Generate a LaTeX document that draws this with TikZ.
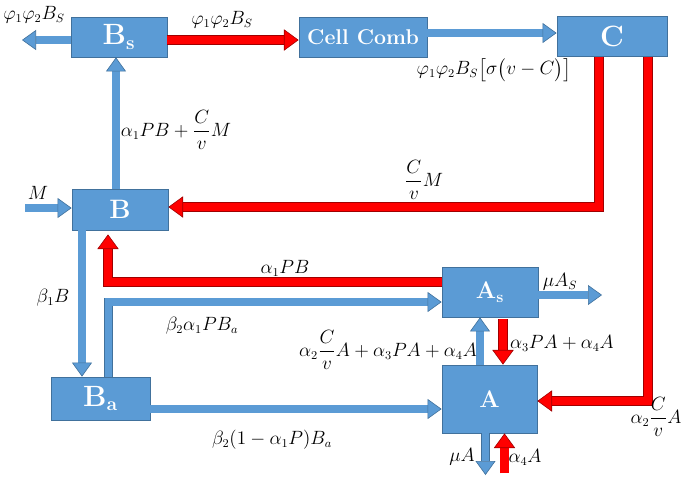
\documentclass[tikz,border=0pt]{standalone}
\usepackage{amsmath}
\usetikzlibrary{arrows.meta}
\definecolor{boxblue}{HTML}{5B9BD5}
\definecolor{boxline}{HTML}{41719C}
\definecolor{flowred}{HTML}{FF0000}
\definecolor{redline}{HTML}{A00000}
\tikzset{
	cbox/.style={draw=boxline,fill=boxblue,line width=0.6pt,text=white,inner sep=0pt},
	bluearr/.style={draw=boxline,line width=0.45pt,double=boxblue,double distance=5.6pt,
		-{Triangle[width=15pt,length=10.5pt,fill=boxblue]}},
	redarr/.style={draw=redline,line width=0.45pt,double=flowred,double distance=6.4pt,
		-{Triangle[width=16pt,length=11pt,fill=flowred]}},
	lab/.style={font=\fontsize{13.5}{16}\selectfont,inner sep=1pt}
}
\newcommand{\bigfont}[1]{\fontsize{#1}{#1}\selectfont\bfseries}
\begin{document}
\begin{tikzpicture}[x=0.75pt,y=-0.75pt]
			\useasboundingbox (0,0) rectangle (693,480);
			% compartments
			\node[cbox,minimum width=72pt,minimum height=30pt,font=\bigfont{22pt}] (Bs) at (119,37) {B$_{\mathbf{s}}$};
			\node[cbox,minimum width=96pt,minimum height=30pt,font=\bigfont{16pt}] (cell) at (363,37) {Cell Comb};
			\node[cbox,minimum width=82.5pt,minimum height=29.5pt,font=\bigfont{22pt}] (C) at (612,36.5) {C};
			\node[cbox,minimum width=72pt,minimum height=30.75pt,font=\bigfont{20pt}] (B) at (120,209.5) {B};
			\node[cbox,minimum width=74.25pt,minimum height=32.25pt,font=\bigfont{22pt}] (Ba) at (100.5,398.5) {B$_{\mathbf{a}}$};
			\node[cbox,minimum width=72pt,minimum height=37.5pt,font=\bigfont{18pt}] (As) at (490,292) {A$_{\mathbf{s}}$};
			\node[cbox,minimum width=71.25pt,minimum height=51pt,font=\bigfont{18pt}] (A) at (489.5,399) {A};
			% free ends
			\coordinate (bsout) at (22,40);
			\coordinate (min) at (25,208);
			\coordinate (asout) at (602,295);
			\coordinate (aout) at (485.5,475);
			\coordinate (ain) at (504.5,473);
			% flows
			\draw[bluearr] (Bs.west |- bsout)--(bsout);
			\draw[redarr] (Bs.east |- 0,40)--(cell.west |- 0,40);
			\draw[bluearr] (cell.east |- 0,33)--(C.west |- 0,33);
			\draw[bluearr] (B.north -| 116,0)--(Bs.south -| 116,0);
			\draw[redarr] (C.south -| 599,0) |- (B.east |- 0,207);
			\draw[redarr] (C.south -| 648,0) |- (A.east |- 0,401);
			\draw[bluearr] (min)--(B.west |- min);
			\draw[bluearr] (B.south -| 82,0)--(Ba.north -| 82,0);
			\draw[redarr,shorten >=3pt] (As.west |- 0,282) -| (B.south -| 108,0);
			\draw[bluearr] (Ba.north -| 108.5,0) |- (As.west |- 0,302);
			\draw[bluearr] (Ba.east |- 0,409)--(A.west |- 0,409);
			\draw[bluearr] (A.north -| 480,0)--(As.south -| 480,0);
			\draw[redarr] ([yshift=-1.5pt]As.south -| 503,0)--(A.north -| 503,0);
			\draw[bluearr] (As.east |- asout)--(asout);
			\draw[bluearr] (A.south -| aout)--(aout);
			\draw[redarr] (ain)--(A.south -| ain);
			% rates
			\node[lab] (lbsout) at (34,15) {$\varphi_1\varphi_2B_S$};
			\node[lab] (lbscell) at (222,20) {$\varphi_1\varphi_2B_S$};
			\node[lab] (lcellc) at (494,70) {$\varphi_1\varphi_2B_S\bigl[\sigma\bigl(v-C\bigr)\bigr]$};
			\node[lab] (lbbs) at (176,130) {$\alpha_1PB+\dfrac{C}{v}M$};
			\node[lab] (lcb) at (424,180) {$\dfrac{C}{v}M$};
			\node[lab] (lmin) at (38,193) {$M$};
			\node[lab] (lasb) at (285,268) {$\alpha_1PB$};
			\node[lab] (lbba) at (53,298) {$\beta_1B$};
			\node[lab] (lbaas) at (202,326) {$\beta_2\alpha_1PB_a$};
			\node[lab] (laas) at (388,350) {$\alpha_2\dfrac{C}{v}A+\alpha_3PA+\alpha_4A$};
			\node[lab] (lasa) at (562,343) {$\alpha_3PA+\alpha_4A$};
			\node[lab] (lca) at (656,417) {$\alpha_2\dfrac{C}{v}A$};
			\node[lab] (lbaa) at (272,440) {$\beta_2(1-\alpha_1P)B_a$};
			\node[lab] (lasout) at (560,282) {$\mu A_S$};
			\node[lab] (laout) at (462,457) {$\mu A$};
			\node[lab] (lain) at (525,457) {$\alpha_4A$};
\end{tikzpicture}
\end{document}
